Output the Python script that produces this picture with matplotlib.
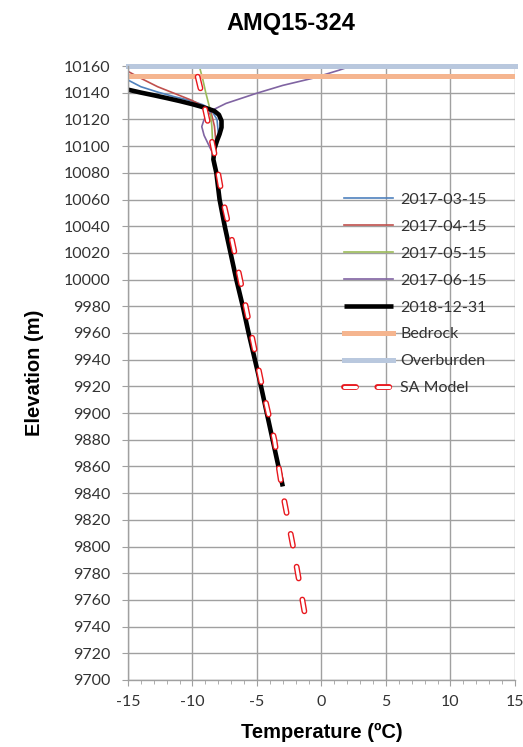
import numpy as np
import matplotlib
matplotlib.use("Agg")
import matplotlib.pyplot as plt

plt.rcParams['lines.scale_dashes'] = False
plt.rcParams['axes.unicode_minus'] = False

# temperature profiles (deg C) against elevation (m)
elev_0315 = [10149.5, 10144.5, 10140.5, 10137, 10134, 10131, 10128, 10120, 10110, 10100, 10090, 10080]
temp_0315 = [-15, -14, -12.7, -11.4, -10.1, -9.2, -8.6, -8.1, -8.0, -8.25, -8.35, -8.2]

elev_0415 = [10156, 10150.8, 10144.5, 10139.5, 10134.5, 10129.5, 10127, 10115, 10105, 10095, 10085]
temp_0415 = [-15, -14, -12.7, -11.4, -10.1, -9.07, -8.6, -8.3, -8.2, -8.35, -8.3]

elev_0515 = [10162, 10159.5, 10150, 10140, 10128, 10115, 10105, 10095, 10085]
temp_0515 = [-9.55, -9.46, -9.2, -8.97, -8.65, -8.5, -8.45, -8.4, -8.35]

elev_0615 = [10162, 10157, 10150.8, 10145.5, 10139.5, 10132, 10127, 10120, 10114.6, 10108, 10100, 10095, 10085]
temp_0615 = [2.9, 1.4, -0.7, -3.0, -5.06, -7.4, -8.45, -9.1, -9.28, -9.1, -8.7, -8.45, -8.35]

elev_1812 = [10142.3, 10140.1, 10138.1, 10136.0, 10133.8, 10131.4, 10129.5, 10128.0, 10126.3,
             10123.5, 10119, 10114, 10109, 10104, 10098, 10090, 10080, 10060, 10040, 10020,
             10000, 9980, 9960, 9925, 9885, 9845]
temp_1812 = [-15, -14, -13, -12, -11, -10, -9.3, -8.8, -8.3,
             -7.95, -7.75, -7.75, -7.9, -8.1, -8.3, -8.38, -8.15, -7.9, -7.5, -7.05,
             -6.6, -6.1, -5.65, -4.8, -3.9, -3.0]

elev_sa = [10152, 10140, 10120, 10090, 10060, 10030, 10000, 9960, 9920, 9880, 9840, 9800, 9750]
temp_sa = [-9.6, -9.3, -8.85, -8.2, -7.65, -6.95, -6.3, -5.45, -4.6, -3.65, -3.0, -2.2, -1.3]

bedrock_elev = 10152.5
overburden_elev = 10160
xlim = (-15, 15)
ylim = (9700, 10160)

fig = plt.figure(figsize=(5.23, 7.47), dpi=100)
ax = fig.add_axes([0.2447, 0.0897, 0.74, 0.8219])

tick_font = 'Lato'
txt_col = '#333333'
grid_col = '#a0a0a0'

ax.plot(temp_0315, elev_0315, color='#4f81bd', lw=1.2, label='2017-03-15')
ax.plot(temp_0415, elev_0415, color='#c0504d', lw=1.2, label='2017-04-15')
ax.plot(temp_0515, elev_0515, color='#9bbb59', lw=1.2, label='2017-05-15')
ax.plot(temp_0615, elev_0615, color='#8064a2', lw=1.2, label='2017-06-15')
ax.plot(temp_1812, elev_1812, color='black', lw=3.3, solid_joinstyle='round',
        solid_capstyle='butt', label='2018-12-31')
ax.plot(xlim, [bedrock_elev] * 2, color='#f5b58f', lw=3.6, label='Bedrock')
ax.plot(xlim, [overburden_elev] * 2, color='#b9c8de', lw=3.6, clip_on=False,
        label='Overburden')

# hollow dashes: wide red dashes with a narrower white dash on top
dash = (0, (8.6, 15.4))
sa_out, = ax.plot(temp_sa, elev_sa, color='#e8181e', lw=4.2, linestyle=dash,
                  dash_capstyle='round')
sa_in, = ax.plot(temp_sa, elev_sa, color='white', lw=2.2, linestyle=dash,
                 dash_capstyle='round')

ax.set_xlim(*xlim)
ax.set_ylim(*ylim)
ax.set_xticks(np.arange(-15, 16, 5))
ax.set_xticks(np.arange(-15, 16, 1), minor=True)
ax.set_yticks(np.arange(9700, 10161, 20))
ax.grid(True, which='major', color=grid_col, lw=1.0)
ax.set_axisbelow(True)
for s in ['top', 'right']:
    ax.spines[s].set_visible(False)
for s in ['left', 'bottom']:
    ax.spines[s].set_color(grid_col)
    ax.spines[s].set_linewidth(1.0)
ax.tick_params(axis='both', which='major', direction='out', length=4.5, color=grid_col,
               labelsize=11.5, labelcolor=txt_col)
ax.tick_params(axis='y', which='major', pad=8)
ax.tick_params(axis='x', which='major', pad=6)
ax.tick_params(axis='x', which='minor', direction='out', length=3, color=grid_col)
for lab in ax.get_xticklabels() + ax.get_yticklabels():
    lab.set_fontfamily(tick_font)

handles, labels = ax.get_legend_handles_labels()
handles.append((sa_out, sa_in))
labels.append('SA Model')
leg = ax.legend(handles, labels, loc='upper left', bbox_to_anchor=(0.557, 0.794),
                frameon=False, borderpad=0, borderaxespad=0, handlelength=3.1,
                handletextpad=0.45, labelspacing=0.8,
                prop={'family': tick_font, 'size': 11.5})
for t in leg.get_texts():
    t.set_color(txt_col)

fig.text(0.556, 0.969, 'AMQ15-324', ha='center', va='center', fontsize=17,
         fontweight='bold', family='Liberation Sans')
ax.set_xlabel('Temperature (ºC)', fontsize=14.5, fontweight='bold',
              family='Liberation Sans', labelpad=10)
ax.set_ylabel('Elevation (m)', fontsize=14.5, fontweight='bold',
              family='Liberation Sans', labelpad=14)

fig.savefig('out.png', dpi=100)
